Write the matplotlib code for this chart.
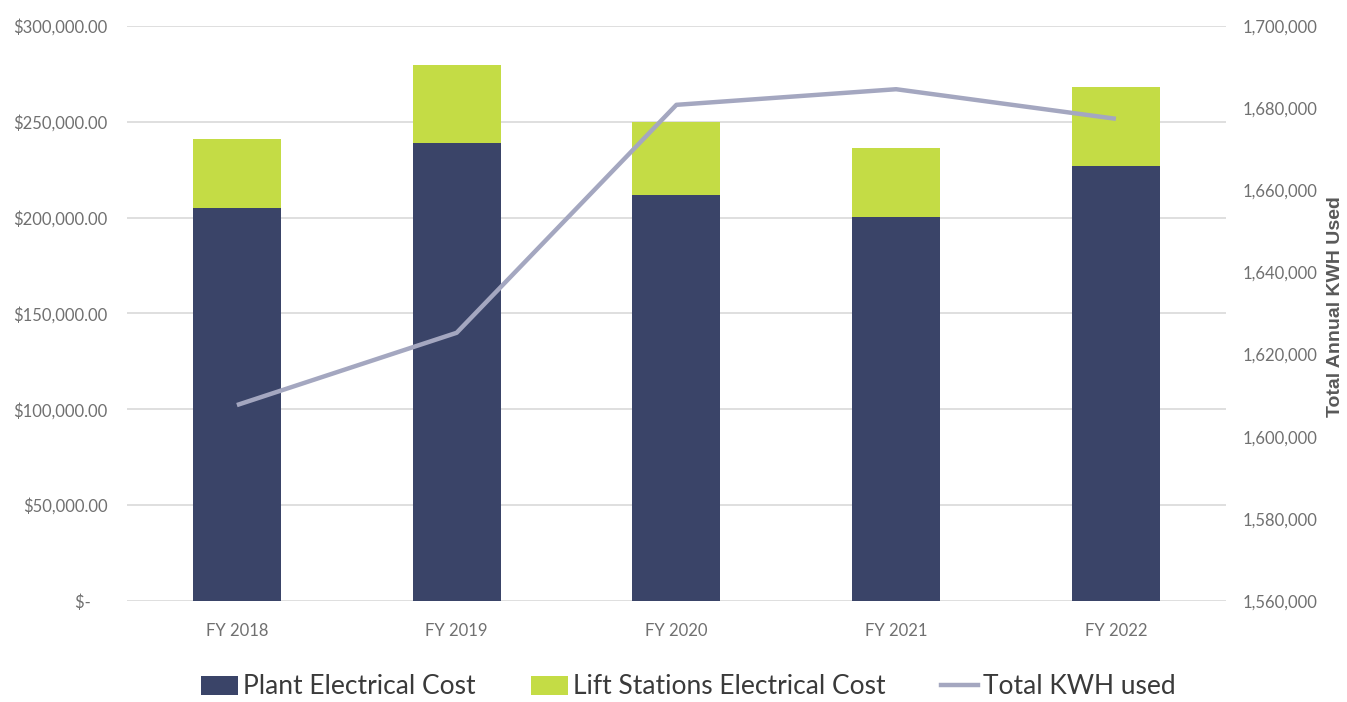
import matplotlib
matplotlib.use("Agg")
import matplotlib.pyplot as plt
from matplotlib.patches import Patch
from matplotlib.lines import Line2D
from matplotlib.ticker import FuncFormatter, MultipleLocator

plt.rcParams['font.family'] = ['Lato', 'DejaVu Sans']

years = ["FY 2018", "FY 2019", "FY 2020", "FY 2021", "FY 2022"]
plant_cost = [204900, 238800, 211700, 200200, 227100]
lift_cost = [36000, 40700, 38000, 36300, 41200]
total_kwh = [1607700, 1625300, 1680800, 1684600, 1677400]

NAVY = "#3a4468"
LIME = "#c4dc45"
LINE = "#a4a7c0"
GRID = "#d9d9d9"
TXT = "#707070"

fig = plt.figure(figsize=(13.47, 7.02), dpi=100)
ax = fig.add_axes([0.0943, 0.1439, 0.8157, 0.8191])

x = range(len(years))
ax.bar(x, plant_cost, width=0.4, color=NAVY, zorder=2)
ax.bar(x, lift_cost, width=0.4, bottom=plant_cost, color=LIME, zorder=2)

ax.set_xlim(-0.5, len(years) - 0.5)
ax.set_ylim(0, 300000)
ax.yaxis.set_major_locator(MultipleLocator(50000))
ax.yaxis.set_major_formatter(FuncFormatter(
    lambda v, _: "$-    " if v == 0 else f"${v:,.2f}"))
ax.grid(axis='y', color=GRID, linewidth=1.2, zorder=0)
ax.set_axisbelow(True)
ax.set_xticks(list(x))
ax.set_xticklabels(years)
for s in ax.spines.values():
    s.set_visible(False)
ax.tick_params(axis='both', length=0, colors=TXT, labelsize=12)
ax.tick_params(axis='y', pad=14)
ax.tick_params(axis='x', pad=16)

ax2 = ax.twinx()
ax2.plot(list(x), total_kwh, color=LINE, linewidth=3.2, solid_capstyle='butt', zorder=3)
ax2.set_ylim(1560000, 1700000)
ax2.yaxis.set_major_locator(MultipleLocator(20000))
ax2.yaxis.set_major_formatter(FuncFormatter(lambda v, _: f"{v:,.0f}"))
for s in ax2.spines.values():
    s.set_visible(False)
ax2.tick_params(axis='y', length=0, colors=TXT, labelsize=12, pad=12)

# secondary axis title sits at the far right edge
fig.text(0.9915, 0.564, "Total Annual KWH Used", rotation=90, ha='center', va='center',
         family='Liberation Sans', fontweight='bold', fontsize=14, color="#595959")

handles = [
    Patch(facecolor=NAVY, label="Plant Electrical Cost"),
    Patch(facecolor=LIME, label="Lift Stations Electrical Cost"),
    Line2D([0], [0], color=LINE, linewidth=3.2, label="Total KWH used"),
]
fig.legend(handles=handles, loc='center', bbox_to_anchor=(0.511, 0.0214), ncol=3,
           frameon=False, fontsize=19, labelcolor="#3a3a3a", handlelength=1.4,
           handleheight=0.75, handletextpad=0.2, columnspacing=2.1, borderaxespad=0)

fig.savefig("out.png", dpi=100)
